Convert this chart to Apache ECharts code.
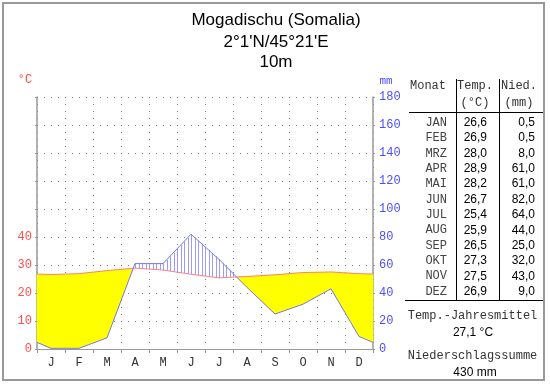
<!DOCTYPE html>
<html><head><meta charset="utf-8">
<script src="https://cdn.jsdelivr.net/npm/echarts@6/dist/echarts.min.js"></script>
<style>html,body{margin:0;padding:0;background:#fff}#c{width:550px;height:384px}</style>
</head><body><div id="c"></div>
<script>
// ---- data ----
var monthLetters = ['J','F','M','A','M','J','J','A','S','O','N','D'];
var monthNames = ['JAN','FEB','MRZ','APR','MAI','JUN','JUL','AUG','SEP','OKT','NOV','DEZ'];
var temps = [26.6,26.9,28.0,28.9,28.2,26.7,25.4,25.9,26.5,27.3,27.5,26.9];
var precip = [0.5,0.5,8.0,61.0,61.0,82.0,64.0,44.0,25.0,32.0,43.0,9.0];
var tempLabelTicks = [0,10,20,30,40];
var titleLines = ['Mogadischu (Somalia)', "2°1'N/45°21'E", '10m'];
var meanTempText = '27,1 °C';
var precipSumText = '430 mm';
var tempMax = 90, precipMax = 180;

// month centres plus wrap-around edge points (Walter-Lieth style)
var edgeT = (temps[11] + temps[0]) / 2;
var edgeP = (precip[11] + precip[0]) / 2;
var xs = [0].concat(temps.map(function(_, i){ return i + 0.5; }), [12]);
var tSer = [edgeT].concat(temps, [edgeT]);
var pSer = [edgeP].concat(precip, [edgeP]);
var ratio = precipMax / tempMax;

function fmt(v){ return v.toFixed(1).replace('.', ','); }

var chart = echarts.init(document.getElementById('c'), null, {renderer:'canvas'});

function renderFill(params, api) {
  var ch = [];
  var originX = api.coord([0, 0])[0];
  var step = 3.5;
  function pt(x, t, p){ return {x:x, t:t*ratio, p:p}; }
  function hatch(U1, U2, V1, V2) {
    var a = U1[0], b = V1[0];
    var n0 = Math.ceil((a - originX) / step);
    for (var n = n0; originX + n * step <= b; n++) {
      var px = originX + n * step;
      var f = (px - a) / (b - a);
      var yt = U1[1] + f * (V1[1] - U1[1]);
      var yp = U2[1] + f * (V2[1] - U2[1]);
      var xx = Math.round(px) + 0.5;
      ch.push({type:'line', shape:{x1:xx, y1:yt, x2:xx, y2:yp}, style:{stroke:'#9a9aff', lineWidth:1}});
    }
  }
  for (var k = 0; k < xs.length - 1; k++) {
    var A = pt(xs[k], tSer[k], pSer[k]);
    var B = pt(xs[k+1], tSer[k+1], pSer[k+1]);
    var d0 = A.p - A.t, d1 = B.p - B.t;
    var pieces = [];
    if (d0 * d1 < 0) {
      var f = d0 / (d0 - d1);
      var M = {x: A.x + f*(B.x-A.x), t: A.t + f*(B.t-A.t), p: A.p + f*(B.p-A.p)};
      pieces.push([A, M, d0]); pieces.push([M, B, d1]);
    } else {
      pieces.push([A, B, d0 + d1]);
    }
    pieces.forEach(function(pc){
      var u = pc[0], v = pc[1];
      var U1 = api.coord([u.x, u.t]), U2 = api.coord([u.x, u.p]);
      var V1 = api.coord([v.x, v.t]), V2 = api.coord([v.x, v.p]);
      if (pc[2] < 0) {
        ch.push({type:'polygon', shape:{points:[U1, V1, V2, U2]}, style:{fill:'#ffff00', stroke:'#ffff00', lineWidth:0.5}});
      } else if (pc[2] > 0) {
        hatch(U1, U2, V1, V2);
      }
    });
  }
  return {type:'group', children: ch};
}

var mono = 'Liberation Mono, DejaVu Sans Mono, monospace';
var sans = 'Liberation Sans, Arial, sans-serif';
var gridColor = '#808080';
var axisColor = '#999999';

var graphics = [];
graphics.push({type:'rect', shape:{x:3, y:3, width:541, height:377}, style:{fill:'none', stroke:'#999', lineWidth:2}, z:100});
titleLines.forEach(function(t, i){
  graphics.push({type:'text', x:276, y:[20, 42, 62][i], style:{text:t, font:'17px ' + sans, fill:'#000', align:'center', verticalAlign:'middle', textAlign:'center', textVerticalAlign:'middle'}});
});
graphics.push({type:'text', x:25, y:80, style:{text:'°C', font:'12px ' + mono, fill:'#ff4d4d', align:'center', verticalAlign:'middle', textAlign:'center', textVerticalAlign:'middle'}});
graphics.push({type:'text', x:386, y:81, style:{text:'mm', font:'11px ' + mono, fill:'#4d4dff', align:'center', verticalAlign:'middle', textAlign:'center', textVerticalAlign:'middle'}});

function txt(t, x, y, font, fill, align){
  graphics.push({type:'text', x:x, y:y, style:{text:t, font:font, fill:fill, align:align, verticalAlign:'middle', textAlign:align, textVerticalAlign:'middle'}});
}
function ln(x1, y1, x2, y2){
  graphics.push({type:'line', shape:{x1:x1, y1:y1, x2:x2, y2:y2}, style:{stroke:'#000', lineWidth:1}});
}
// table
ln(456.5, 79, 456.5, 301); ln(499.5, 79, 499.5, 301);
ln(409, 112.5, 544, 112.5); ln(405, 300.5, 544, 300.5);
txt('Monat', 428, 86, '12px ' + mono, '#333', 'center');
txt('Temp.', 475, 86, '12px ' + mono, '#333', 'center');
txt('Nied.', 519, 86, '12px ' + mono, '#333', 'center');
txt('(°C)', 475, 103, '12px ' + mono, '#333', 'center');
txt('(mm)', 519, 103, '12px ' + mono, '#333', 'center');
monthNames.forEach(function(m, i){
  var y = 122.7 + i * 15.36;
  txt(m, 447, y, '12px ' + mono, '#444', 'right');
  txt(fmt(temps[i]), 487, y, '12px ' + sans, '#000', 'right');
  txt(fmt(precip[i]), 535, y, '12px ' + sans, '#000', 'right');
});
txt('Temp.-Jahresmittel', 472.5, 316, '12px ' + mono, '#333', 'center');
txt(meanTempText, 473, 333, '12px ' + sans, '#000', 'center');
txt('Niederschlagssumme', 472.5, 356, '12px ' + mono, '#333', 'center');
txt(precipSumText, 475, 373, '12px ' + sans, '#000', 'center');

var option = {
  backgroundColor: '#ffffff',
  animation: false,
  grid: {left:37, top:97, width:336, height:252, containLabel:false},
  xAxis: [
    {type:'category', data: monthLetters, boundaryGap:true, position:'bottom',
     axisLine:{show:true, lineStyle:{color:axisColor, width:1}},
     axisTick:{show:true, length:4, lineStyle:{color:axisColor}},
     axisLabel:{interval:0, color:'#333', fontFamily:mono, fontSize:12, margin:8},
     splitLine:{show:true, lineStyle:{color:gridColor, type:[1,6]}}},
    {type:'value', min:0, max:12, show:false}
  ],
  yAxis: [
    {type:'value', min:0, max:tempMax, interval:10, position:'left',
     axisLine:{show:true, lineStyle:{color:axisColor, width:1.5}},
     axisTick:{show:true, length:2, lineStyle:{color:axisColor}},
     axisLabel:{color:'#ff4d4d', fontFamily:mono, fontSize:12, margin:5,
       formatter:function(v){ return tempLabelTicks.indexOf(v) >= 0 ? String(v) : ''; }},
     splitLine:{show:true, lineStyle:{color:gridColor, type:[1,6]}}},
    {type:'value', min:0, max:precipMax, interval:20, position:'right',
     axisLine:{show:true, lineStyle:{color:axisColor, width:1.5}},
     axisTick:{show:true, length:2, lineStyle:{color:axisColor}},
     axisLabel:{color:'#4d4dff', fontFamily:mono, fontSize:12, margin:6},
     splitLine:{show:false}}
  ],
  series: [
    {type:'custom', xAxisIndex:1, yAxisIndex:1, data:[[0,0]], renderItem: renderFill, silent:true, z:1},
    {type:'line', xAxisIndex:1, yAxisIndex:0, data: xs.map(function(x,i){ return [x, tSer[i]]; }),
     showSymbol:false, symbol:'none', lineStyle:{color:'#ff8080', width:1}, silent:true, z:3},
    {type:'line', xAxisIndex:1, yAxisIndex:1, data: xs.map(function(x,i){ return [x, pSer[i]]; }),
     showSymbol:false, symbol:'none', lineStyle:{color:'#7777ee', width:1}, silent:true, z:4}
  ],
  graphic: graphics
};
chart.setOption(option);
</script></body></html>
